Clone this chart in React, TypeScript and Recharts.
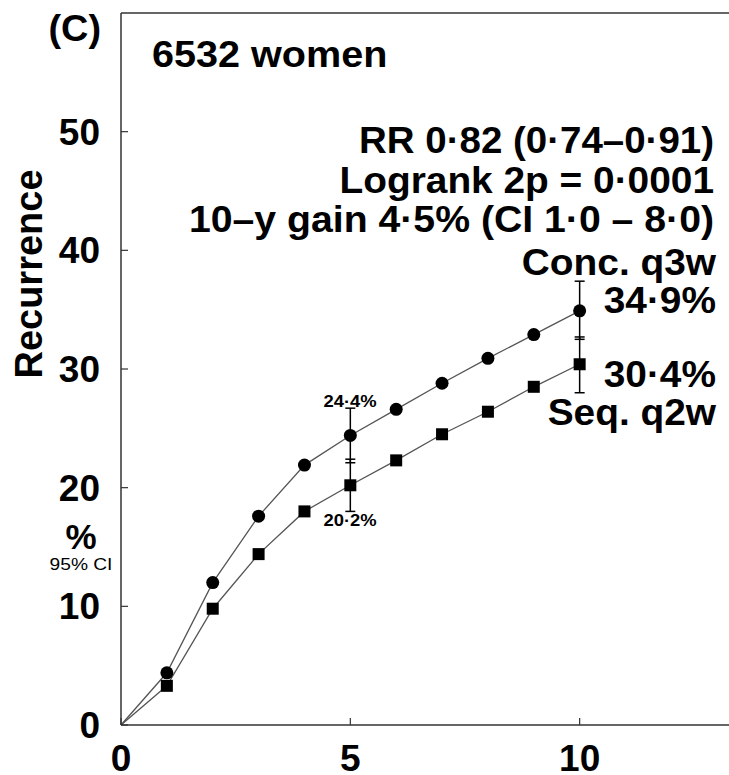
// Рецидивы: кумулятивная кривая двух режимов (Conc. q3w vs Seq. q2w) с 95% ДИ на 5 и 10 годах
import {
  ComposedChart,
  Line,
  XAxis,
  YAxis,
  ReferenceLine,
  ErrorBar,
} from "recharts";

const years = [0, 1, 2, 3, 4, 5, 6, 7, 8, 9, 10];
const conc = [0, 4.4, 12.0, 17.6, 21.9, 24.4, 26.6, 28.8, 30.9, 32.9, 34.9];
const seq = [0, 3.3, 9.8, 14.4, 18.0, 20.2, 22.3, 24.5, 26.4, 28.5, 30.4];
// 95% CI only at 5 and 10 years (null elsewhere)
const concLow = [null, null, null, null, null, 22.1, null, null, null, null, 32.5];
const concHigh = [null, null, null, null, null, 26.7, null, null, null, null, 37.4];
const seqLow = [null, null, null, null, null, 18.0, null, null, null, null, 28.0];
const seqHigh = [null, null, null, null, null, 22.4, null, null, null, null, 32.7];

const xTicks = [0, 5, 10];
const yTicks = [0, 10, 20, 30, 40, 50];

const data = years.map((t, i) => ({
  t,
  conc: conc[i],
  seq: seq[i],
  concErr: concLow[i] == null ? undefined : [conc[i] - concLow[i]!, concHigh[i]! - conc[i]],
  seqErr: seqLow[i] == null ? undefined : [seq[i] - seqLow[i]!, seqHigh[i]! - seq[i]],
}));

const FONT = "'Liberation Sans', Arial, Helvetica, sans-serif";
const INK = "#000";
const AXIS = "#333";

const CircleDot = (p: any) => {
  if (p.index === 0 || p.cx == null) return <g key={p.key} />;
  return <circle key={p.key} cx={p.cx} cy={p.cy} r={6.5} fill={INK} />;
};
const SquareDot = (p: any) => {
  if (p.index === 0 || p.cx == null) return <g key={p.key} />;
  return <rect key={p.key} x={p.cx - 6} y={p.cy - 6} width={12} height={12} fill={INK} />;
};

// текст с лёгким растяжением по горизонтали (в оригинале шрифт шире)
function T({ x, y, size = 37, anchor = "end", weight = 700, children, rotate, sx = 1.05 }: any) {
  const tr = rotate
    ? `translate(${x},${y}) rotate(${rotate})`
    : `translate(${x},${y}) scale(${sx},1)`;
  return (
    <text transform={tr} fontFamily={FONT} fontSize={size} fontWeight={weight} textAnchor={anchor} fill={INK}>
      {children}
    </text>
  );
}

export default function App() {
  return (
    <div style={{ position: "absolute", left: 0, top: 0, width: 731, height: 775, background: "#fff" }}>
      <ComposedChart
        width={731}
        height={775}
        data={data}
        margin={{ top: 13, right: 0, bottom: 0, left: 0 }}
      >
        <XAxis
          dataKey="t"
          type="number"
          domain={[0, 13.3]}
          ticks={xTicks}
          height={50}
          tickSize={-7}
          tickMargin={27}
          axisLine={{ stroke: AXIS, strokeWidth: 1.5 }}
          tickLine={{ stroke: AXIS, strokeWidth: 1.2 }}
          tick={{ fontFamily: FONT, fontSize: 37, fontWeight: 700, fill: INK }}
        />
        <YAxis
          type="number"
          domain={[0, 60]}
          ticks={yTicks}
          width={121}
          tickSize={-7}
          tickMargin={28}
          axisLine={{ stroke: AXIS, strokeWidth: 1.5 }}
          tickLine={{ stroke: AXIS, strokeWidth: 1.2 }}
          tick={{ fontFamily: FONT, fontSize: 37, fontWeight: 700, fill: INK }}
        />
        <YAxis
          yAxisId="r"
          orientation="right"
          type="number"
          domain={[0, 60]}
          ticks={yTicks}
          width={0}
          tickSize={-6}
          axisLine={false}
          tickLine={{ stroke: AXIS, strokeWidth: 1.2 }}
          tickFormatter={() => ""}
        />
        <ReferenceLine y={60} stroke={AXIS} strokeWidth={1.5} />
        <Line
          dataKey="conc"
          stroke="#555"
          strokeWidth={1.3}
          dot={CircleDot}
          activeDot={false}
          isAnimationActive={false}
        >
          <ErrorBar dataKey="concErr" direction="y" width={5} stroke={INK} strokeWidth={1.5} />
        </Line>
        <Line
          dataKey="seq"
          stroke="#555"
          strokeWidth={1.3}
          dot={SquareDot}
          activeDot={false}
          isAnimationActive={false}
        >
          <ErrorBar dataKey="seqErr" direction="y" width={5} stroke={INK} strokeWidth={1.5} />
        </Line>
      </ComposedChart>
      <svg
        width={729}
        height={775}
        style={{ position: "absolute", left: 0, top: 0, pointerEvents: "none" }}
      >
        <T x={101} y={41} size={36}>(C)</T>
        <T x={152} y={67} anchor="start" sx={1.07}>6532 women</T>
        <T x={714} y={153} sx={1.04}>RR 0·82 (0·74–0·91)</T>
        <T x={714} y={193}>Logrank 2p = 0·0001</T>
        <T x={714} y={232} sx={1.06}>10–y gain 4·5% (CI 1·0 – 8·0)</T>
        <T x={716} y={275}>Conc. q3w</T>
        <T x={716} y={313}>34·9%</T>
        <T x={716} y={387}>30·4%</T>
        <T x={716} y={425}>Seq. q2w</T>
        <T x={350} y={407} size={16} anchor="middle" sx={1.15}>24·4%</T>
        <T x={350} y={526} size={16} anchor="middle" sx={1.15}>20·2%</T>
        <T x={81} y={549} size={35} anchor="middle" sx={1}>%</T>
        <T x={81} y={570} size={16} weight={400} anchor="middle" sx={1.2}>95% CI</T>
        <T x={42} y={274} size={38} anchor="middle" rotate={-90}>Recurrence</T>
      </svg>
    </div>
  );
}
